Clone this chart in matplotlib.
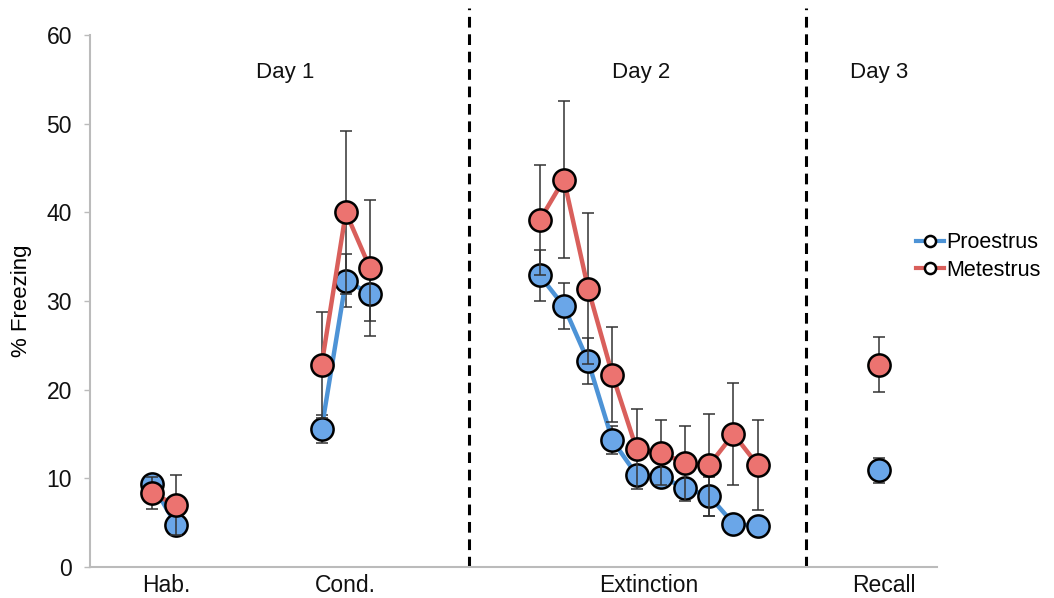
import numpy as np
import matplotlib.pyplot as plt
from matplotlib.lines import Line2D

plt.rcParams['font.family'] = ['Liberation Sans', 'DejaVu Sans']

# trial positions on a category axis (one slot per trial)
hab_pos = [0, 1]
cond_pos = [7, 8, 9]
ext_pos = [16, 17, 18, 19, 20, 21, 22, 23, 24, 25]
recall_pos = [30]

# % freezing, Proestrus
pro_hab = [9.4, 4.7]
pro_hab_err = [1.0, 0.5]
pro_cond = [15.6, 32.3, 30.8]
pro_cond_err = [1.6, 3.0, 3.0]
pro_ext = [32.9, 29.4, 23.2, 14.3, 10.4, 10.2, 8.9, 8.0, 4.9, 4.6]
pro_ext_err = [2.9, 2.6, 2.6, 1.6, 0.9, 0.8, 0.8, 2.2, 0.5, 0.5]
pro_recall = [10.9]
pro_recall_err = [1.4]

# % freezing, Metestrus
met_hab = [8.3, 7.0]
met_hab_err = [1.8, 3.4]
met_cond = [22.8, 40.0, 33.7]
met_cond_err = [6.0, 9.2, 7.7]
met_ext = [39.1, 43.7, 31.4, 21.7, 13.3, 12.9, 11.7, 11.5, 15.0, 11.5]
met_ext_err = [6.2, 8.8, 8.5, 5.4, 4.5, 3.7, 4.2, 5.8, 5.7, 5.1]
met_recall = [22.8]
met_recall_err = [3.1]

phase_labels = ['Hab.', 'Cond.', 'Extinction', 'Recall']
phase_label_pos = [0.6, 8, 20.5, 30.2]
day_labels = ['Day 1', 'Day 2', 'Day 3']
day_label_pos = [5.5, 20.2, 30]
day_breaks = [13.1, 27.0]

blue_line = '#4d93d6'
blue_fill = '#6aa6e8'
red_line = '#d95f5b'
red_fill = '#ec7370'

fig = plt.figure(figsize=(10.54, 5.98), dpi=100)
ax = fig.add_axes([0.0854, 0.0518, 0.8036, 0.8897])

series = [
    (blue_line, blue_fill, [(hab_pos, pro_hab, pro_hab_err), (cond_pos, pro_cond, pro_cond_err),
                            (ext_pos, pro_ext, pro_ext_err), (recall_pos, pro_recall, pro_recall_err)], 3),
    (red_line, red_fill, [(hab_pos, met_hab, met_hab_err), (cond_pos, met_cond, met_cond_err),
                          (ext_pos, met_ext, met_ext_err), (recall_pos, met_recall, met_recall_err)], 5),
]

for line_c, fill_c, parts, z in series:
    for xs, ys, es in parts:
        ax.errorbar(xs, ys, yerr=es, fmt='none', ecolor='#333333', elinewidth=1.1,
                    capsize=4, capthick=1.1, zorder=z - 1)
        ax.plot(xs, ys, '-', color=line_c, lw=3.2, zorder=z)
        ax.plot(xs, ys, 'o', ms=16, mfc=fill_c, mec='black', mew=1.8, zorder=z + 0.5)

for xb in day_breaks:
    ax.plot([xb, xb], [0, 63], color='black', lw=2.2, linestyle=(0, (3.5, 2.2)),
            clip_on=False, zorder=1)

for lab, xp in zip(day_labels, day_label_pos):
    ax.text(xp, 55.8, lab, ha='center', va='center', fontsize=16, color='#111111')

ax.set_xlim(-2.56, 32.4)
ax.set_ylim(0, 60)
ax.set_yticks(np.arange(0, 61, 10))
ax.set_xticks(phase_label_pos)
ax.set_xticklabels(phase_labels)
ax.tick_params(axis='x', length=0, labelsize=16.5, pad=5, colors='#111111')
ax.tick_params(axis='y', length=4, width=1, color='#bbbbbb', labelsize=16.5, pad=9,
               labelcolor='#111111')
ax.set_ylabel('% Freezing', fontsize=16)
ax.yaxis.set_label_coords(-0.068, 0.5)

for side in ['top', 'right']:
    ax.spines[side].set_visible(False)
for side in ['left', 'bottom']:
    ax.spines[side].set_color('#bbbbbb')
    ax.spines[side].set_linewidth(1.5)

handles = [
    Line2D([], [], color=blue_line, lw=3, marker='o', ms=8, mfc='white', mec='black', mew=1.8),
    Line2D([], [], color=red_line, lw=3, marker='o', ms=8, mfc='white', mec='black', mew=1.8),
]
fig.legend(handles, ['Proestrus', 'Metestrus'], loc='center left',
           bbox_to_anchor=(0.851, 0.571), frameon=False, fontsize=15.5,
           handlelength=1.3, handletextpad=0.1, labelspacing=0.3)

fig.savefig('out.png', dpi=100)
